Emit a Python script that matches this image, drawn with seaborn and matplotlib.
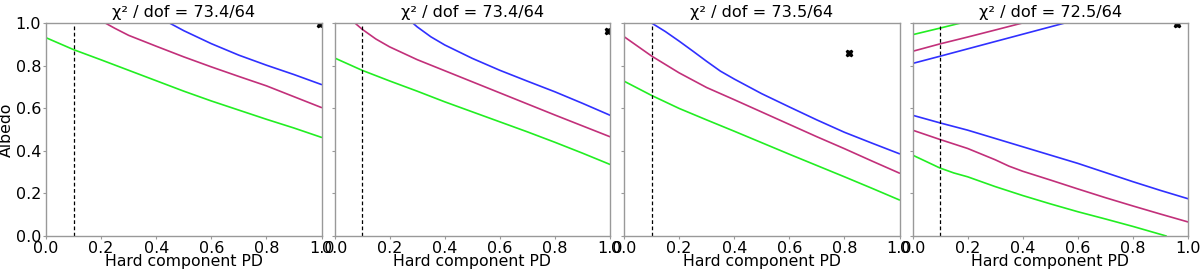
import numpy as np
import matplotlib
matplotlib.use("Agg")
import matplotlib.pyplot as plt
import seaborn as sns

# chi2 values in the panel titles
chi2 = ['73.4', '73.4', '73.5', '72.5']
dof = 64

# best-fit points (hard component PD, albedo)
best_x = [0.995, 0.994, 0.818, 0.961]
best_y = [0.995, 0.961, 0.861, 0.997]

# contour traces, one list per panel
# each entry: (colour key, x values, albedo values)
panel1 = [
    ('g', [0.0, 0.1, 0.2, 0.3, 0.4, 0.5, 0.6, 0.7, 0.8, 0.9, 1.0],
          [0.931, 0.875, 0.827, 0.778, 0.729, 0.680, 0.634, 0.591, 0.548, 0.507, 0.463]),
    ('p', [0.215, 0.25, 0.3, 0.4, 0.5, 0.6, 0.7, 0.8, 0.9, 1.0],
          [1.0, 0.975, 0.942, 0.891, 0.841, 0.794, 0.749, 0.705, 0.654, 0.603]),
    ('b', [0.448, 0.5, 0.6, 0.7, 0.8, 0.9, 1.0],
          [1.0, 0.964, 0.903, 0.849, 0.802, 0.758, 0.711]),
]
panel2 = [
    ('g', [0.0, 0.1, 0.2, 0.3, 0.4, 0.5, 0.6, 0.7, 0.8, 0.9, 1.0],
          [0.836, 0.778, 0.728, 0.680, 0.630, 0.583, 0.536, 0.489, 0.440, 0.389, 0.336]),
    ('p', [0.074, 0.1, 0.15, 0.2, 0.3, 0.4, 0.5, 0.6, 0.7, 0.8, 0.9, 1.0],
          [1.0, 0.971, 0.925, 0.888, 0.828, 0.776, 0.724, 0.672, 0.620, 0.568, 0.517, 0.466]),
    ('b', [0.284, 0.3, 0.35, 0.4, 0.5, 0.6, 0.7, 0.8, 0.9, 1.0],
          [1.0, 0.982, 0.935, 0.897, 0.834, 0.778, 0.727, 0.677, 0.623, 0.567]),
]
panel3 = [
    ('g', [0.0, 0.1, 0.2, 0.3, 0.4, 0.5, 0.6, 0.7, 0.8, 0.9, 1.0],
          [0.727, 0.660, 0.599, 0.545, 0.492, 0.438, 0.384, 0.331, 0.278, 0.224, 0.169]),
    ('p', [0.0, 0.1, 0.2, 0.3, 0.4, 0.5, 0.6, 0.7, 0.8, 0.9, 1.0],
          [0.936, 0.845, 0.766, 0.697, 0.640, 0.582, 0.524, 0.466, 0.410, 0.352, 0.295]),
    ('b', [0.1, 0.15, 0.2, 0.25, 0.3, 0.35, 0.4, 0.5, 0.6, 0.7, 0.8, 0.9, 1.0],
          [1.0, 0.960, 0.915, 0.868, 0.820, 0.774, 0.737, 0.668, 0.606, 0.545, 0.487, 0.436, 0.386]),
]
panel4 = [
    ('g', [0.0, 0.1, 0.175], [0.945, 0.976, 1.0]),
    ('p', [0.0, 0.1, 0.2, 0.3, 0.399], [0.867, 0.902, 0.934, 0.967, 1.0]),
    ('b', [0.0, 0.1, 0.3, 0.553], [0.810, 0.844, 0.913, 1.0]),
    ('b', [0.0, 0.1, 0.2, 0.3, 0.4, 0.5, 0.6, 0.7, 0.8, 0.9, 1.0],
          [0.567, 0.531, 0.497, 0.458, 0.419, 0.380, 0.341, 0.298, 0.255, 0.214, 0.175]),
    ('p', [0.0, 0.1, 0.2, 0.3, 0.35, 0.4, 0.5, 0.6, 0.7, 0.8, 0.9, 1.0],
          [0.497, 0.453, 0.411, 0.358, 0.328, 0.304, 0.263, 0.221, 0.180, 0.141, 0.103, 0.066]),
    ('g', [0.0, 0.1, 0.15, 0.2, 0.3, 0.4, 0.5, 0.6, 0.7, 0.8, 0.921],
          [0.380, 0.319, 0.296, 0.278, 0.232, 0.190, 0.151, 0.114, 0.080, 0.045, 0.0]),
]
panels = [panel1, panel2, panel3, panel4]

colours = {'b': '#3030ff', 'p': '#c2307a', 'g': '#22ee22'}

sns.set_style("white")
plt.rcParams['font.family'] = ['DejaVu Sans']
plt.rcParams['text.color'] = 'black'
plt.rcParams['axes.labelcolor'] = 'black'
plt.rcParams['xtick.labelcolor'] = 'black'
plt.rcParams['ytick.labelcolor'] = 'black'

fig = plt.figure(figsize=(12, 2.73), dpi=100)
lefts = [46, 334.5, 624, 912.5]
axes = [fig.add_axes([l / 1200, 1 - 236 / 273, 275.5 / 1200, 213 / 273]) for l in lefts]

for i, ax in enumerate(axes):
    for key, xs, ys in panels[i]:
        sns.lineplot(x=xs, y=ys, ax=ax, color=colours[key], lw=1.2,
                     sort=False, estimator=None)
    ax.axvline(0.1, color='black', ls=(0, (3, 2)), lw=0.9)
    ax.plot(best_x[i], best_y[i], marker='X', color='black', ms=5, ls='none')

    ax.set_xlim(0, 1)
    ax.set_ylim(0, 1)
    ax.set_xticks(np.arange(0, 1.01, 0.2))
    ax.set_yticks(np.arange(0, 1.01, 0.2))
    ax.tick_params(axis='both', length=2, width=0.8, color='#999999',
                   labelcolor='black', labelsize=11.5, pad=1.5,
                   bottom=True, left=True)
    for s in ax.spines.values():
        s.set_color('#999999')
        s.set_linewidth(1.0)
    ax.set_title(f'χ² / dof = {chi2[i]}/{dof}', fontsize=11.6, pad=4, color='black')
    ax.set_xlabel('Hard component PD', fontsize=11.3, labelpad=-1)
    if i == 0:
        ax.set_ylabel('Albedo', fontsize=11.3, labelpad=1)
    else:
        ax.set_yticklabels([])

fig.savefig('out.png', dpi=100)
